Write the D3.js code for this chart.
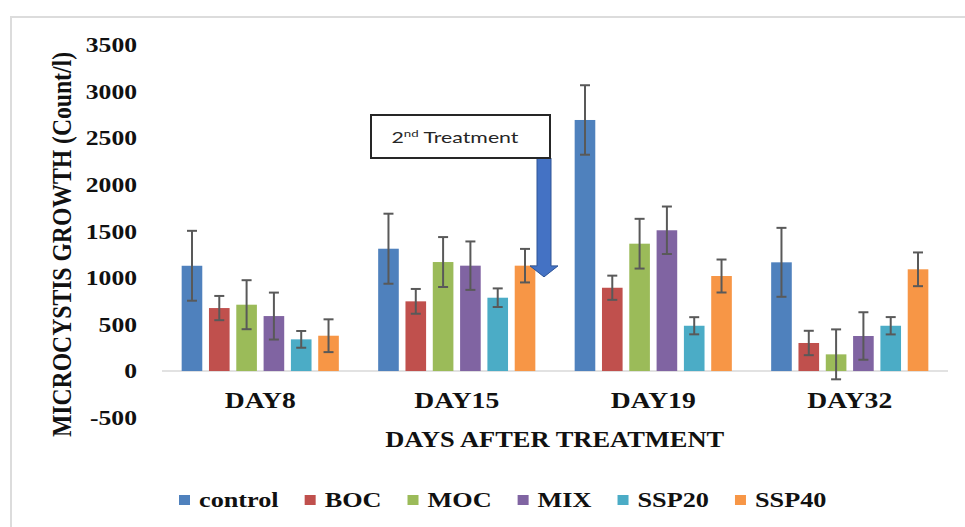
<!DOCTYPE html>
<html><head><meta charset="utf-8">
<script src="https://cdn.jsdelivr.net/npm/d3@7"></script>
<style>
html,body{margin:0;padding:0;background:#fff;}
svg{display:block;}
</style></head>
<body>
<svg id="chart" width="965" height="527"></svg>
<script>
// ---- data ----
const days = ["DAY8", "DAY15", "DAY19", "DAY32"];
const seriesNames = ["control", "BOC", "MOC", "MIX", "SSP20", "SSP40"];
const seriesColors = ["#4F81BD", "#C0504D", "#9BBB59", "#8064A2", "#4BACC6", "#F79646"];
const control = [1130, 1313, 2695, 1167];
const controlErr = [375, 376, 373, 370];
const BOC = [676, 748, 894, 301];
const BOCErr = [130, 133, 130, 131];
const MOC = [712, 1170, 1367, 179];
const MOCErr = [263, 268, 267, 268];
const MIX = [590, 1131, 1511, 376];
const MIXErr = [252, 260, 255, 255];
const SSP20 = [340, 787, 486, 486];
const SSP20Err = [90, 100, 92, 93];
const SSP40 = [379, 1131, 1020, 1092];
const SSP40Err = [176, 180, 177, 181];
const yTicks = [-500, 0, 500, 1000, 1500, 2000, 2500, 3000, 3500];
const yTitle = "MICROCYSTIS GROWTH (Count/l)";
const xTitle = "DAYS AFTER TREATMENT";

const values = [control, BOC, MOC, MIX, SSP20, SSP40];
const errors = [controlErr, BOCErr, MOCErr, MIXErr, SSP20Err, SSP40Err];
const rows = [];
days.forEach((d, i) => seriesNames.forEach((s, j) => rows.push({day: d, series: s, color: seriesColors[j], v: values[j][i], e: errors[j][i]})));

const svg = d3.select("#chart");
const SERIF = "'Liberation Serif','Times New Roman',serif";

function stretch(sel, k) {
  sel.each(function () {
    const len = this.getComputedTextLength();
    d3.select(this).attr("textLength", len * k).attr("lengthAdjust", "spacingAndGlyphs");
  });
}

// outer frame
svg.append("rect").attr("x", 11).attr("y", 17).attr("width", 1000).attr("height", 600)
  .attr("fill", "#fff").attr("stroke", "#dcdcdc").attr("stroke-width", 2);

// scales
const x0 = d3.scaleBand().domain(days).range([162, 948]).paddingInner(0).paddingOuter(0);
const x1 = d3.scaleBand().domain(seriesNames).range([0, x0.bandwidth()]).paddingInner(0.245).paddingOuter(0.72);
const y = d3.scaleLinear().domain([-500, 3500]).range([417.6, 45]);

// baseline
svg.append("line").attr("x1", x0.range()[0]).attr("x2", x0.range()[1])
  .attr("y1", y(0)).attr("y2", y(0)).attr("stroke", "#d9d9d9").attr("stroke-width", 1.5);

// bars
svg.append("g").selectAll("rect").data(rows).join("rect")
  .attr("x", d => x0(d.day) + x1(d.series))
  .attr("width", x1.bandwidth())
  .attr("y", d => y(Math.max(0, d.v)))
  .attr("height", d => Math.abs(y(d.v) - y(0)))
  .attr("fill", d => d.color);

// error bars
const eg = svg.append("g").attr("stroke", "#595959").attr("stroke-width", 2).attr("fill", "none");
const cx = d => x0(d.day) + x1(d.series) + x1.bandwidth() / 2;
eg.selectAll("line.v").data(rows).join("line").attr("class", "v")
  .attr("x1", cx).attr("x2", cx).attr("y1", d => y(d.v + d.e)).attr("y2", d => y(d.v - d.e));
eg.selectAll("line.t").data(rows).join("line").attr("class", "t")
  .attr("x1", d => cx(d) - 5).attr("x2", d => cx(d) + 5).attr("y1", d => y(d.v + d.e)).attr("y2", d => y(d.v + d.e));
eg.selectAll("line.b").data(rows).join("line").attr("class", "b")
  .attr("x1", d => cx(d) - 5).attr("x2", d => cx(d) + 5).attr("y1", d => y(d.v - d.e)).attr("y2", d => y(d.v - d.e));

// y axis
const yAxis = svg.append("g").attr("transform", `translate(${x0.range()[0]},0)`)
  .call(d3.axisLeft(y).tickValues(yTicks).tickSize(0).tickPadding(25).tickFormat(d => String(d)));
yAxis.select(".domain").remove();
yAxis.selectAll("text").attr("font-family", SERIF).attr("font-weight", "bold").attr("font-size", 21).attr("fill", "#111").call(stretch, 1.22);

// x axis
const xAxis = svg.append("g").attr("transform", `translate(0,${y(0)})`)
  .call(d3.axisBottom(x0).tickSize(0).tickPadding(21));
xAxis.select(".domain").remove();
xAxis.selectAll("text").attr("font-family", SERIF).attr("font-weight", "bold").attr("font-size", 23).attr("fill", "#111").call(stretch, 1.2);

// axis titles
svg.append("text").attr("x", 554.7).attr("y", 447).attr("text-anchor", "middle")
  .attr("font-family", SERIF).attr("font-weight", "bold").attr("font-size", 23).attr("fill", "#111")
  .text(xTitle).call(stretch, 1.15);
svg.append("text").attr("transform", "translate(71,244.5) scale(1.2,1) rotate(-90)").attr("text-anchor", "middle")
  .attr("font-family", SERIF).attr("font-weight", "bold").attr("font-size", 23.5).attr("fill", "#111")
  .attr("textLength", 385).attr("lengthAdjust", "spacingAndGlyphs")
  .text(yTitle);

// annotation arrow + box
const tipY = y(1000) - 1;
const ax = x0("DAY15") + x0.bandwidth() - 11;
svg.append("path")
  .attr("d", `M${ax - 7},158 L${ax + 7},158 L${ax + 7},${tipY - 11} L${ax + 14},${tipY - 11} L${ax},${tipY} L${ax - 14},${tipY - 11} L${ax - 7},${tipY - 11} Z`)
  .attr("fill", "#4472C4").attr("stroke", "#2F5597").attr("stroke-width", 1);
svg.append("rect").attr("x", 371).attr("y", 115).attr("width", 179).attr("height", 43)
  .attr("fill", "#fff").attr("stroke", "#262626").attr("stroke-width", 2);
const tt = svg.append("text").attr("x", 391.5).attr("y", 143.3)
  .attr("font-family", "Lato, 'Open Sans', sans-serif").attr("font-size", 16).attr("fill", "#262626");
tt.append("tspan").text("2");
tt.append("tspan").attr("font-size", 10).attr("dy", -6).text("nd");
tt.append("tspan").attr("dy", 6).text(" Treatment");
tt.attr("textLength", 127).attr("lengthAdjust", "spacingAndGlyphs");

// legend
const lg = svg.append("g");
let lx = 179;
seriesNames.forEach((s, j) => {
  lg.append("rect").attr("x", lx).attr("y", 495).attr("width", 11).attr("height", 10).attr("fill", seriesColors[j]);
  const t = lg.append("text").attr("x", lx + 20).attr("y", 506.5)
    .attr("font-family", SERIF).attr("font-weight", "bold").attr("font-size", 21.5).attr("fill", "#111")
    .text(s).call(stretch, 1.22);
  lx += 20 + +t.attr("textLength") + 26;
});
</script>
</body></html>
